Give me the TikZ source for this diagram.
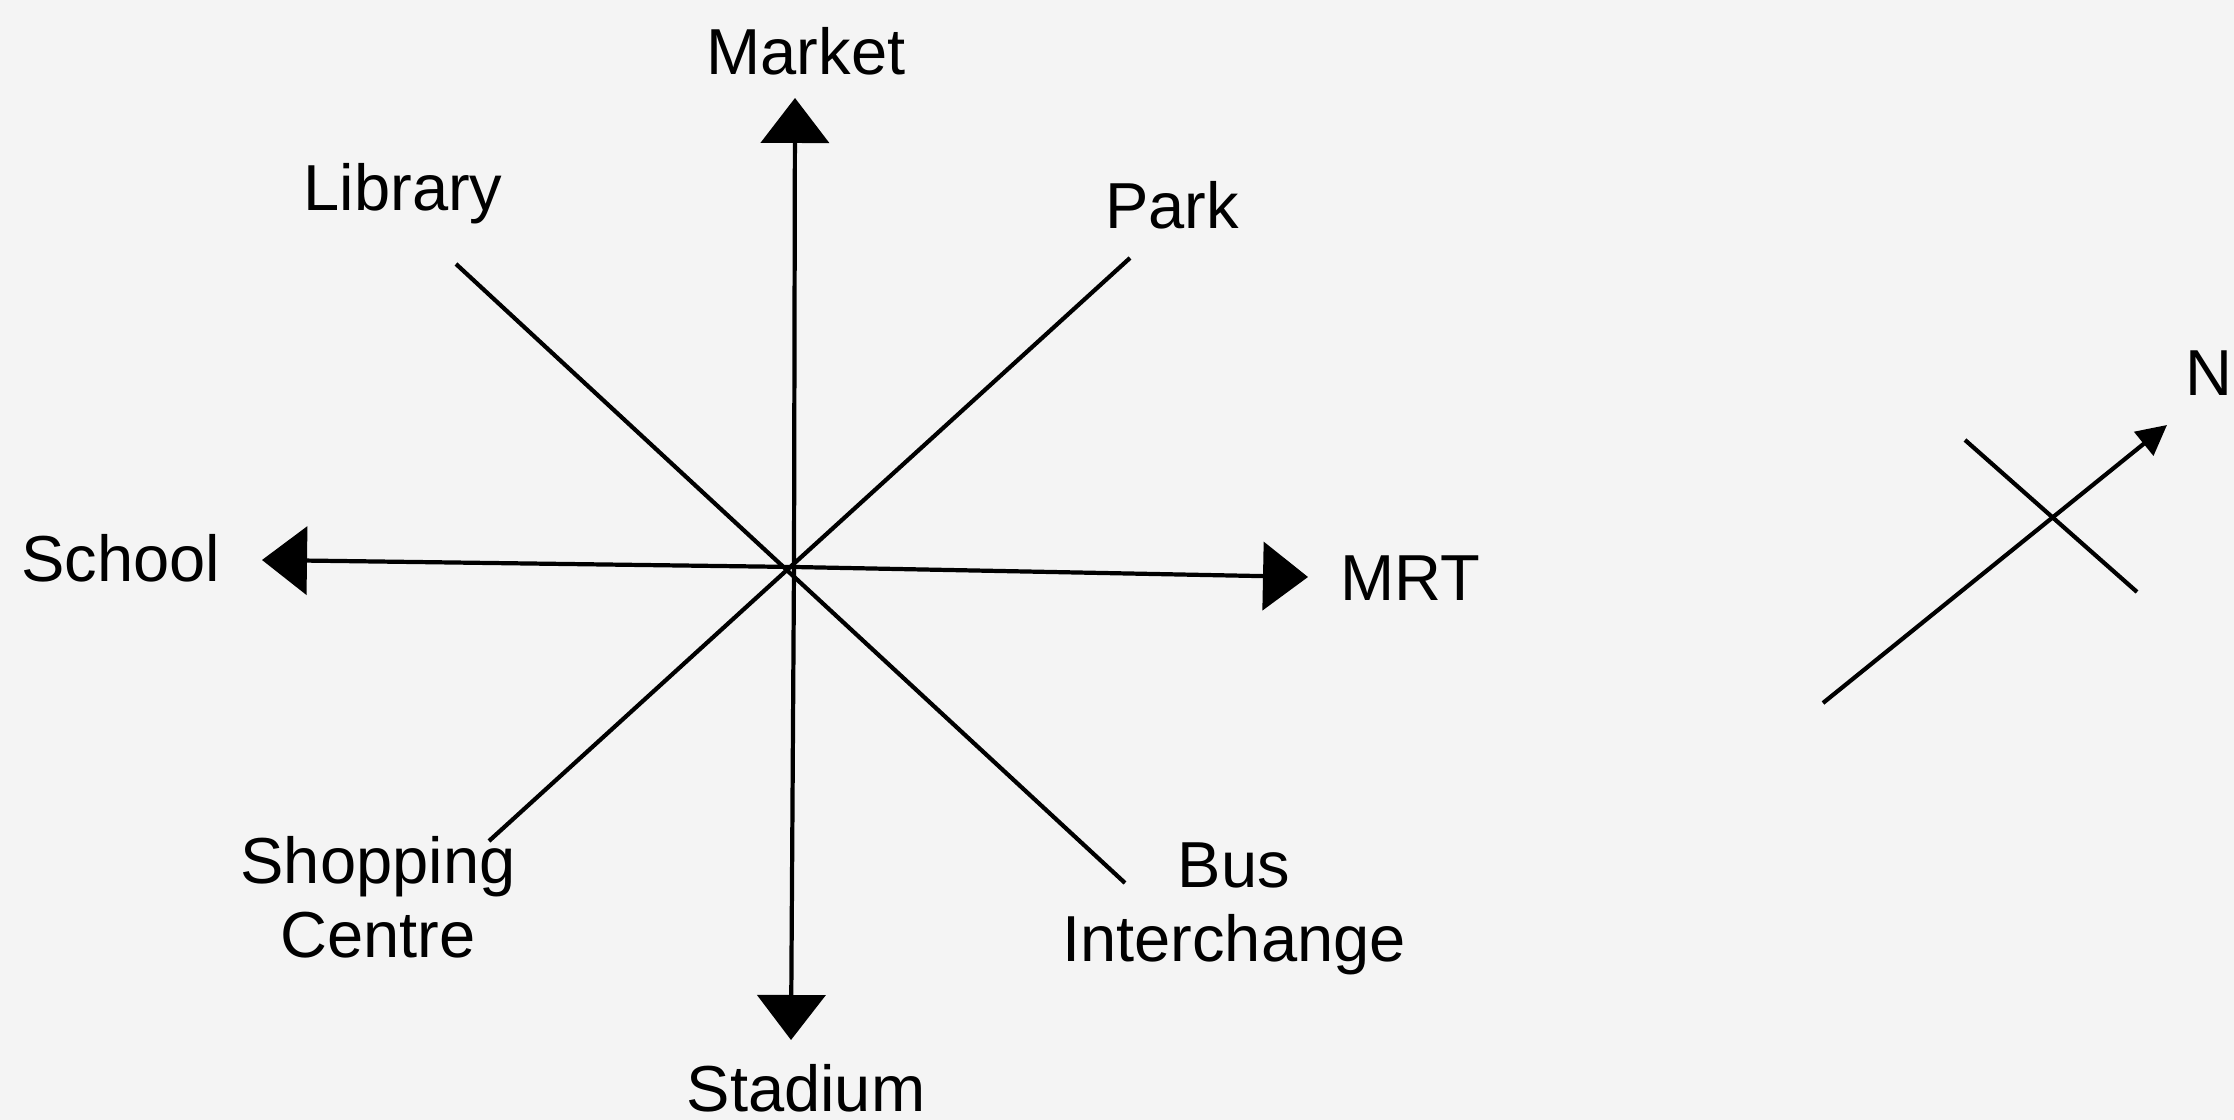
\documentclass[tikz,border=0pt]{standalone}
\usepackage{fontspec}
\setmainfont{Liberation Sans}
\usetikzlibrary{arrows.meta}
\definecolor{paper}{HTML}{F4F4F4}

\begin{document}
\begin{tikzpicture}[line width=1.2pt,
	bigtip/.style={-{Triangle[length=0.45cm,width=0.68cm]}},
	smalltip/.style={-{Triangle[length=0.3cm,width=0.3cm]}},
	place/.style={inner sep=0pt,font=\fontsize{18.5}{21}\selectfont,align=center}]
	\fill[paper] (0,0) rectangle (22.34,11.2);
	\useasboundingbox (0,0) rectangle (22.34,11.2);
	%\draw[step=1cm ,color=gray] (0,0) grid (22,11);
			\coordinate (o) at (7.94,5.53);
			\coordinate (market) at (7.95,10.22);
			\coordinate (stadium) at (7.91,0.80);
			\coordinate (school) at (2.62,5.60);
			\coordinate (mrt) at (13.08,5.43);
			\coordinate (library) at (4.56,8.56);
			\coordinate (park) at (11.30,8.62);
			\coordinate (shopping) at (4.89,2.79);
			\coordinate (bus) at (11.25,2.37);
			\draw[bigtip] (o) -- (market);
			\draw[bigtip] (o) -- (stadium);
			\draw[bigtip] (o) -- (school);
			\draw[bigtip] (o) -- (mrt);
			\draw (library) -- (bus);
			\draw (park) -- (shopping);
			\node[place] (lmarket) at (8.06,10.69) {Market};
			\node[place] (lstadium) at (8.06,0.32) {Stadium};
			\node[place] (lschool) at (1.21,5.62) {School};
			\node[place] (lmrt) at (14.10,5.42) {MRT};
			\node[place] (llibrary) at (4.03,9.26) {Library};
			\node[place] (lpark) at (11.72,9.15) {Park};
			\node[place] (lshopping) at (3.78,2.23) {Shopping\\Centre};
			\node[place] (lbus) at (12.34,2.11) {Bus\\Interchange};
			% north arrow
			\coordinate (ntail) at (18.23,4.17);
			\coordinate (nhead) at (21.67,6.95);
			\coordinate (ca) at (19.65,6.80);
			\coordinate (cb) at (21.37,5.28);
			\draw[smalltip] (ntail) -- (nhead);
			\draw (ca) -- (cb);
			\node[place,anchor=west] (north) at (21.83,7.47) {N};
	\end{tikzpicture}
\end{document}
